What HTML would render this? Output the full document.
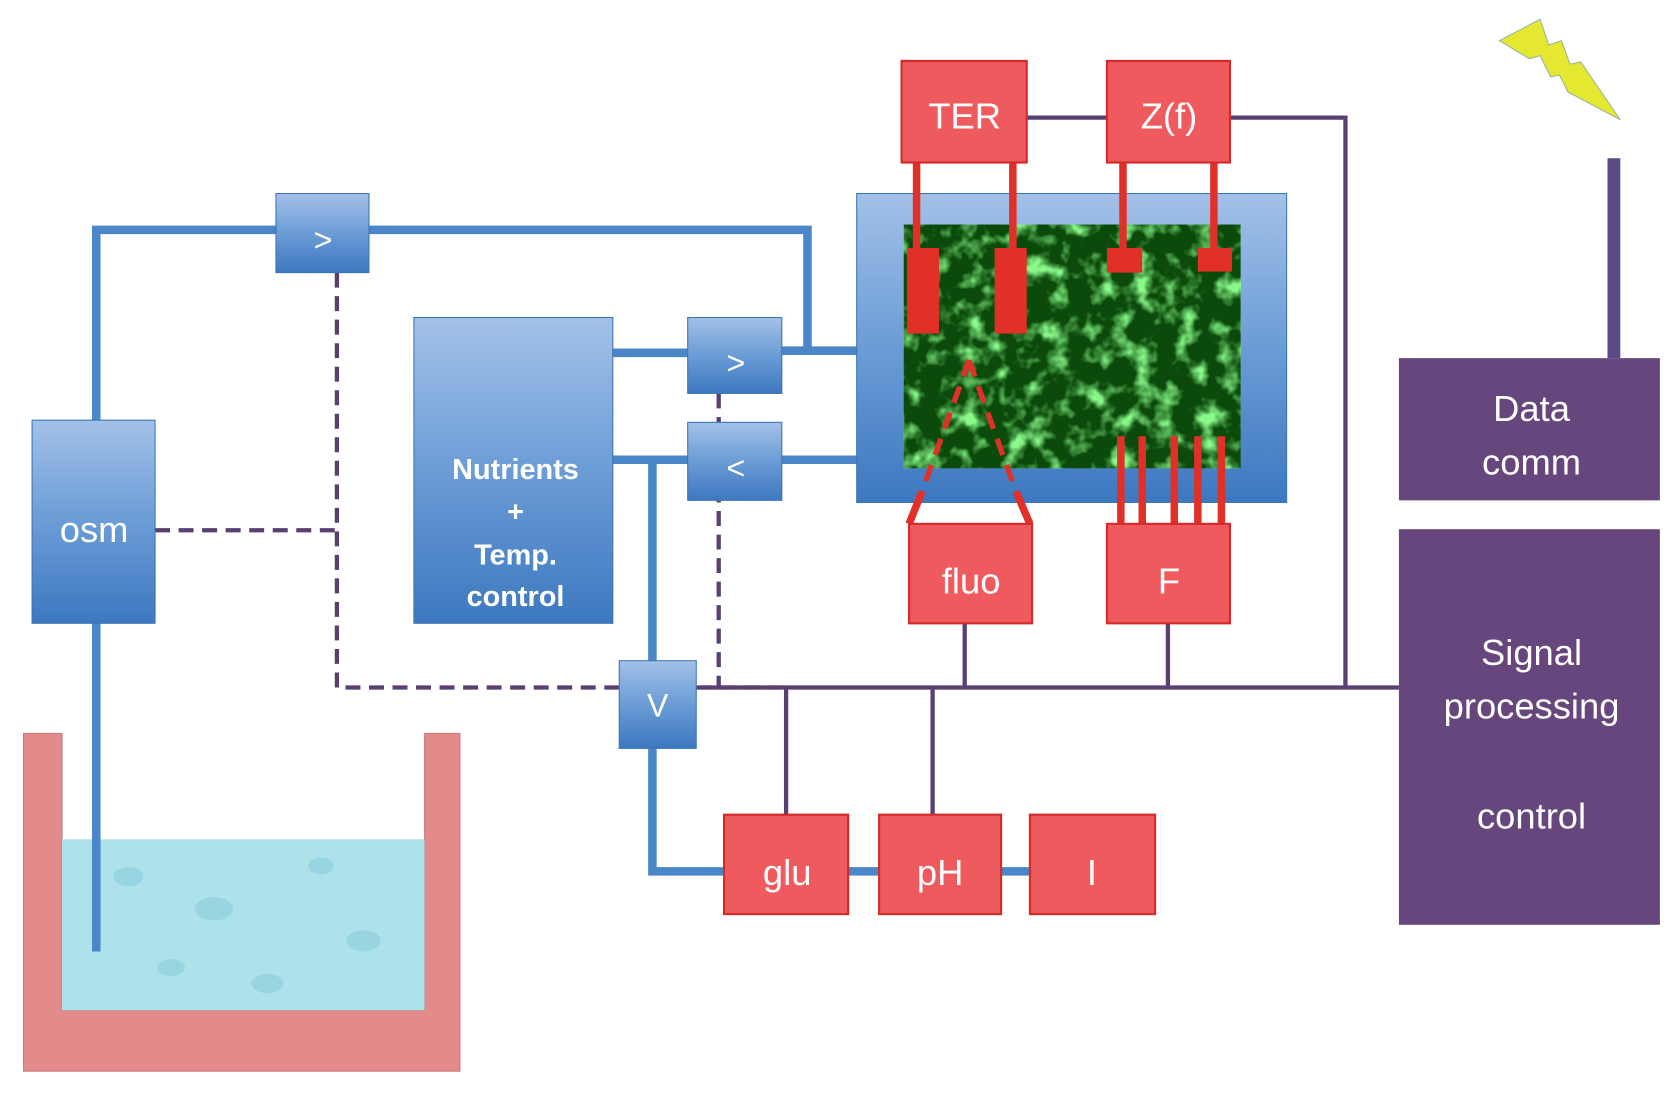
<!DOCTYPE html>
<html><head><meta charset="utf-8"><style>
html,body{margin:0;padding:0;background:#fff;}
svg{display:block;}
text{font-family:"Liberation Sans",sans-serif;fill:#fff;text-anchor:middle;}
</style></head><body>
<svg width="1677" height="1098" viewBox="0 0 1568 1027" preserveAspectRatio="none" xmlns="http://www.w3.org/2000/svg">
<defs>
<linearGradient id="bg" x1="0" y1="0" x2="0" y2="1"><stop offset="0" stop-color="#a3c1e8"/><stop offset="0.5" stop-color="#6b9cd6"/><stop offset="1" stop-color="#3d78c0"/></linearGradient>
<filter id="cells" x="0" y="0" width="100%" height="100%">
<feTurbulence type="fractalNoise" baseFrequency="0.05" numOctaves="3" seed="4" result="n"/>
<feColorMatrix in="n" type="matrix" values="0 0 0 0 0.25  0 0 0 0 0.95  0 0 0 0 0.25  3.2 0 0 0 -1.5"/>
</filter>
</defs>
<rect width="1568" height="1027" fill="#fff"/>
<!-- tank -->
<path d="M22,686 H58 V945 H397 V686 H430 V1002 H22 Z" fill="#e38b8b" stroke="#c97a7a" stroke-width="1"/>
<rect x="58" y="785" width="339" height="160" fill="#aee2ea"/>
<g fill="#8fd0de" opacity="0.7"><ellipse cx="120" cy="820" rx="14" ry="9"/><ellipse cx="200" cy="850" rx="18" ry="11"/><ellipse cx="300" cy="810" rx="12" ry="8"/><ellipse cx="340" cy="880" rx="16" ry="10"/><ellipse cx="160" cy="905" rx="13" ry="8"/><ellipse cx="250" cy="920" rx="15" ry="9"/></g>
<!-- purple lines -->
<g stroke="#5a3f73" stroke-width="4" fill="none">
<path d="M960,110 H1035 M1150,110 H1258 V643 M655,643 H1308 M902,583 V643 M1092,583 V643 M735,643 V762 M872,643 V762"/>
</g>
<g stroke="#5a3f73" stroke-width="4" fill="none" stroke-dasharray="14,8">
<path d="M145,496 H315 M315,255 V643 H580 M651,643 H735 M672,368 V643"/>
</g>
<!-- blue lines -->
<g stroke="#4a86c8" stroke-width="8" fill="none">
<path d="M90,393 V215 H258 M345,215 H755 V328 M573,330 H643 M731,328 H801 M573,430 H643 M731,430 H801 M610,430 V618 M610,700 V815 H677 M793,815 H822 M936,815 H963 M90,583 V890"/>
</g>
<!-- blue boxes -->
<g fill="url(#bg)" stroke="#3d75b5" stroke-width="1">
<rect x="801" y="181" width="402" height="289"/>
<rect x="258" y="181" width="87" height="74"/>
<rect x="30" y="393" width="115" height="190"/>
<rect x="387" y="297" width="186" height="286"/>
<rect x="643" y="297" width="88" height="71"/>
<rect x="643" y="395" width="88" height="73"/>
<rect x="579" y="618" width="72" height="82"/>
</g>
<rect x="845" y="210" width="315" height="228" fill="#0b4a0a"/>
<rect x="845" y="210" width="315" height="228" filter="url(#cells)"/>
<!-- red leads -->
<g stroke="#e03028" stroke-width="7" fill="none">
<path d="M857,152 V240 M947,152 V240 M1050,152 V240 M1135,152 V240 M1048,408 V490 M1068,408 V490 M1098,408 V490 M1120,408 V490 M1142,408 V490 M862,460 L850,490 M950,460 L963,490"/>
</g>
<g stroke="#e03028" stroke-width="5" fill="none" stroke-dasharray="16,10">
<path d="M906,337 L862,460 M906,337 L950,460"/>
</g>
<g fill="#e03028">
<rect x="848" y="232" width="30" height="80"/><rect x="930" y="232" width="30" height="80"/>
<rect x="1035" y="232" width="33" height="23"/><rect x="1120" y="232" width="32" height="22"/>
</g>
<!-- red boxes -->
<g fill="#ef5a5e" stroke="#d42a2a" stroke-width="2">
<rect x="843" y="57" width="117" height="95"/><rect x="1035" y="57" width="115" height="95"/>
<rect x="850" y="490" width="115" height="93"/><rect x="1035" y="490" width="115" height="93"/>
<rect x="677" y="762" width="116" height="93"/><rect x="822" y="762" width="114" height="93"/><rect x="963" y="762" width="117" height="93"/>
</g>
<!-- purple boxes -->
<rect x="1503" y="148" width="12" height="187" fill="#5a4a85"/>
<rect x="1308" y="335" width="244" height="133" fill="#66467c"/>
<rect x="1308" y="495" width="244" height="370" fill="#66467c"/>
<polygon points="1402,38 1440,18 1448,42 1460,38 1468,60 1478,58 1515,112 1466,86 1458,70 1450,72 1440,52 1430,55" fill="#e4e830" stroke="#9bb3a0" stroke-width="1"/>
<!-- text -->
<g font-size="34">
<text x="902" y="120">TER</text><text x="1093" y="120">Z(f)</text>
<text x="908" y="555">fluo</text><text x="1093" y="555">F</text>
<text x="736" y="828">glu</text><text x="879" y="828">pH</text><text x="1021" y="828">I</text>
<text x="88" y="507">osm</text>
<text x="1432" y="394">Data</text><text x="1432" y="444">comm</text>
<text x="1432" y="622">Signal</text><text x="1432" y="672">processing</text><text x="1432" y="775">control</text>
</g>
<g font-size="30"><text x="302" y="235">&gt;</text><text x="688" y="350">&gt;</text><text x="688" y="448">&lt;</text><text x="615" y="670">V</text></g>
<g font-size="27" font-weight="bold"><text x="482" y="448">Nutrients</text><text x="482" y="488">+</text><text x="482" y="528">Temp.</text><text x="482" y="567">control</text></g>
</svg>
</body></html>
